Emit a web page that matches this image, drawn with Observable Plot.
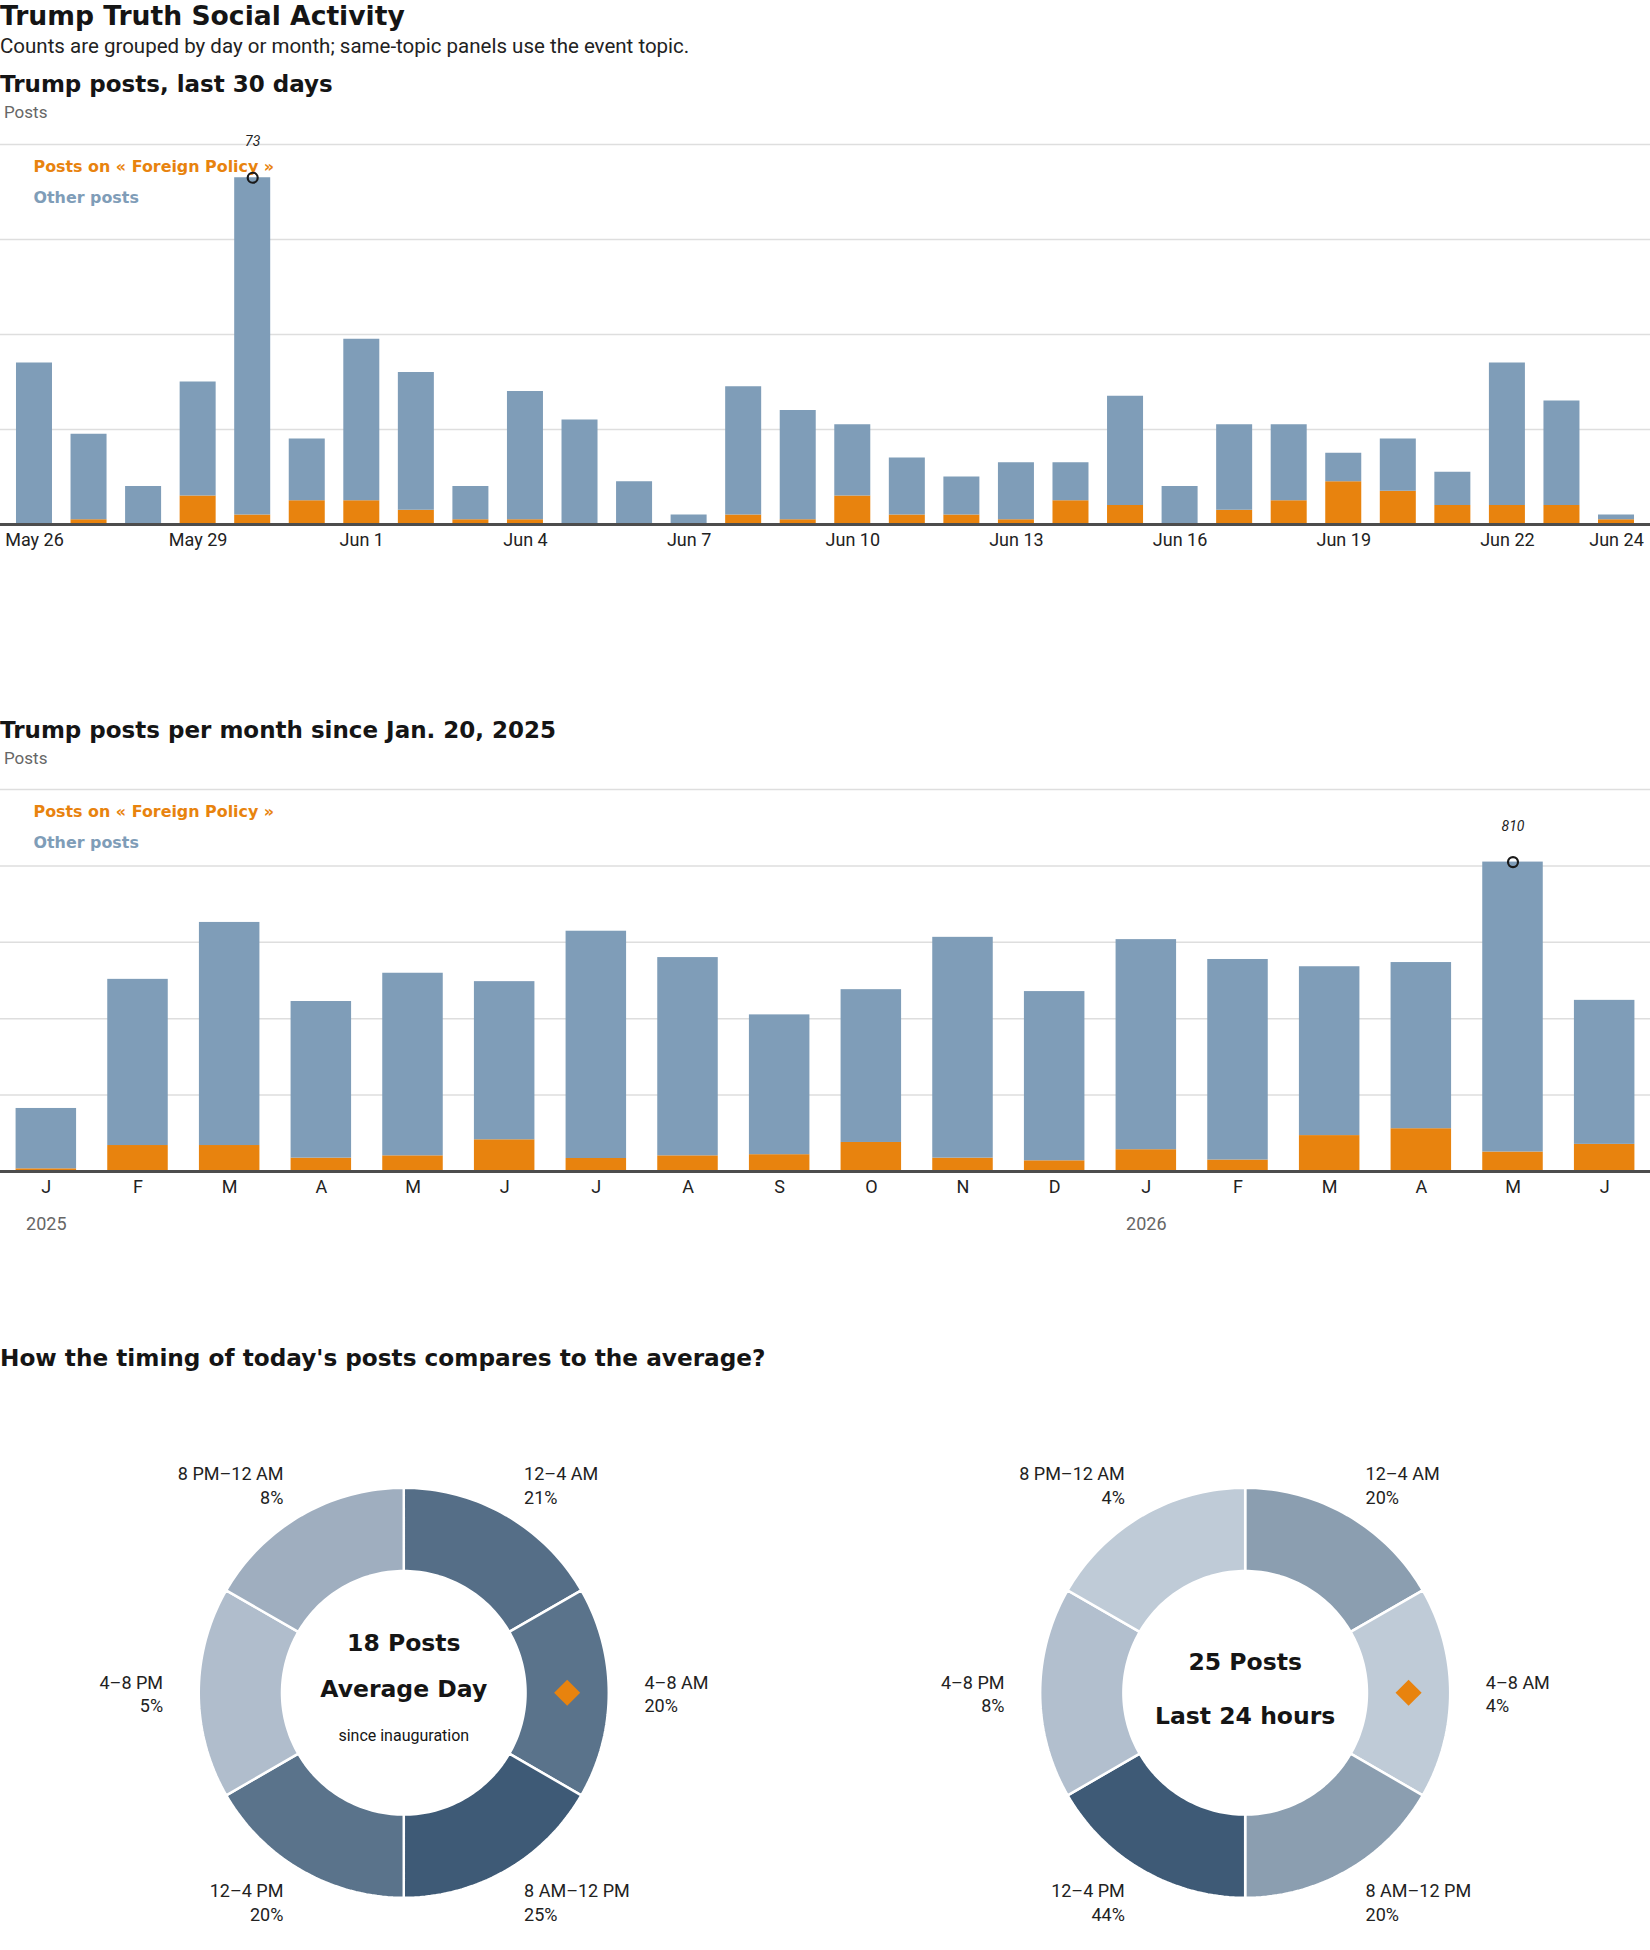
<!DOCTYPE html>
<html>
<head>
<meta charset="utf-8">
<script src="https://cdn.jsdelivr.net/npm/d3@7"></script>
<script src="https://cdn.jsdelivr.net/npm/@observablehq/plot@0.6"></script>
<style>
  body { margin: 0; background: #fff; font-family: Roboto, "Liberation Sans", sans-serif; color: #1a1a1a; }
  #page { position: relative; width: 1650px; height: 1950px; overflow: hidden; }
  .t { position: absolute; left: 0; white-space: nowrap; line-height: 1.15; }
  .heavy { font-family: "DejaVu Sans", sans-serif; font-weight: 700; color: #151515; }
  .chart { position: absolute; left: 0; }
  svg { overflow: visible; }
</style>
</head>
<body>
<div id="page">
  <div class="t heavy" style="top:1px;font-size:26.6px">Trump Truth Social Activity</div>
  <div class="t" style="top:35px;font-size:20.5px;color:#222">Counts are grouped by day or month; same-topic panels use the event topic.</div>
  <div class="t heavy" style="top:71px;font-size:23px">Trump posts, last 30 days</div>
  <div class="t" style="top:103px;left:4px;font-size:17px;color:#666">Posts</div>
  <div id="daily" class="chart" style="top:120px"></div>

  <div class="t heavy" style="top:717px;font-size:23px">Trump posts per month since Jan. 20, 2025</div>
  <div class="t" style="top:749px;left:4px;font-size:17px;color:#666">Posts</div>
  <div id="monthly" class="chart" style="top:770px"></div>

  <div class="t heavy" style="top:1345px;font-size:23.2px">How the timing of today's posts compares to the average?</div>
  <div id="donutA" class="chart" style="top:1400px;left:0px"></div>
  <div id="donutB" class="chart" style="top:1400px;left:825px"></div>
</div>
<script>
// ---------- DATA ----------
const seriesNames = ["Posts on « Foreign Policy »", "Other posts"];
const seriesColors = ["#e8830e", "#7f9db8"];

// Daily, last 30 days (May 26 – Jun 24, 2026)
const dayStart = "2026-05-26";
const dailyForeign = [0, 1, 0, 6, 2, 5, 5, 3, 1, 1, 0, 0, 0, 2, 1, 6, 2, 2, 1, 5, 4, 0, 3, 5, 9, 7, 4, 4, 4, 1];
const dailyOther   = [34, 18, 8, 24, 71, 13, 34, 29, 7, 27, 22, 9, 2, 27, 23, 15, 12, 8, 12, 8, 23, 8, 18, 16, 6, 11, 7, 30, 22, 1];
const dailyTicks = ["May 26", "May 29", "Jun 1", "Jun 4", "Jun 7", "Jun 10", "Jun 13", "Jun 16", "Jun 19", "Jun 22", "Jun 24"];
const dailyGrid = [20, 40, 60, 80];
const dailyDomain = [0, 80];

// Monthly since Jan 2025
const months = ["2025-01","2025-02","2025-03","2025-04","2025-05","2025-06","2025-07","2025-08","2025-09",
                "2025-10","2025-11","2025-12","2026-01","2026-02","2026-03","2026-04","2026-05","2026-06"];
const monthlyForeign = [7, 68, 68, 35, 41, 83, 34, 41, 44, 76, 35, 28, 57, 30, 94, 112, 51, 71];
const monthlyOther   = [158, 435, 584, 410, 478, 414, 595, 519, 366, 400, 578, 443, 550, 525, 442, 435, 759, 377];
const monthLetters = ["J","F","M","A","M","J","J","A","S","O","N","D"];
const yearTicks = ["2025-01", "2026-01"];
const monthlyGrid = [200, 400, 600, 800, 1000];
const monthlyDomain = [0, 1000];

// Timing donuts
const slots = ["12–4 AM", "4–8 AM", "8 AM–12 PM", "12–4 PM", "4–8 PM", "8 PM–12 AM"];
const avgPct = [21, 20, 25, 20, 5, 8];
const todayPct = [20, 4, 20, 44, 8, 4];
const avgPosts = 18;
const todayPosts = 25;
const currentSlot = "4–8 AM";

// ---------- BUILD ----------
const HEAVY = "'DejaVu Sans', sans-serif";
const fmtDay = d3.utcFormat("%b %-d");
const dayDates = d3.utcDay.range(new Date(dayStart), d3.utcDay.offset(new Date(dayStart), dailyForeign.length));
const dayLabels = dayDates.map(fmtDay);
const dailyLong = dayLabels.flatMap((day, i) => [
  {day, series: seriesNames[0], value: dailyForeign[i]},
  {day, series: seriesNames[1], value: dailyOther[i]}
]);
const dailyTotals = dayLabels.map((day, i) => ({day, total: dailyForeign[i] + dailyOther[i]}));
const dailyPeak = d3.greatest(dailyTotals, d => d.total);

const monthlyLong = months.flatMap((m, i) => [
  {month: m, series: seriesNames[0], value: monthlyForeign[i]},
  {month: m, series: seriesNames[1], value: monthlyOther[i]}
]);
const monthlyTotals = months.map((m, i) => ({month: m, total: monthlyForeign[i] + monthlyOther[i]}));
const monthlyPeak = d3.greatest(monthlyTotals, d => d.total);

const baseStyle = {fontFamily: "Roboto, 'Liberation Sans', sans-serif", fontSize: "18px", color: "#222", background: "transparent", overflow: "visible"};

function legendMarks() {
  return seriesNames.map((name, i) =>
    Plot.text([name], {text: d => d, frameAnchor: "top-left", lineAnchor: "middle", dx: 33, dy: 22 + i * 31,
      fill: seriesColors[i], fontFamily: HEAVY, fontWeight: 700, fontSize: 15.9, textAnchor: "start"}));
}

function peakMarks(peak, xKey) {
  return [
    Plot.dot([peak], {x: xKey, y: "total", r: 5, stroke: "#1a1a1a", strokeWidth: 2.2, fill: "none"}),
    Plot.text([peak], {x: xKey, y: "total", text: d => String(d.total), dy: -36, fontStyle: "italic", fontSize: 14, fill: "#222"})
  ];
}

document.getElementById("daily").append(Plot.plot({
  width: 1650, height: 440,
  marginTop: 24, marginBottom: 36, marginLeft: 0, marginRight: 0,
  style: baseStyle,
  x: {type: "band", domain: dayLabels, paddingInner: 0.34, paddingOuter: 0.293, round: false, label: null},
  y: {domain: dailyDomain, axis: null},
  color: {domain: seriesNames, range: seriesColors},
  marks: [
    Plot.ruleY(dailyGrid, {stroke: "#dedede", strokeWidth: 1.5}),
    Plot.barY(dailyLong, {x: "day", y: "value", fill: "series"}),
    Plot.ruleY([0], {stroke: "#4d4d4d", strokeWidth: 3}),
    Plot.axisX(dailyTicks, {tickSize: 0, tickPadding: 9, fontSize: 18, fill: "#222"}),
    ...legendMarks(),
    ...peakMarks(dailyPeak, "day")
  ]
}));

document.getElementById("monthly").append(Plot.plot({
  width: 1650, height: 480,
  marginTop: 19, marginBottom: 79, marginLeft: 0, marginRight: 0,
  style: baseStyle,
  x: {type: "band", domain: months, paddingInner: 0.34, paddingOuter: 0.17, round: false, label: null},
  y: {domain: monthlyDomain, axis: null},
  color: {domain: seriesNames, range: seriesColors},
  marks: [
    Plot.ruleY(monthlyGrid, {stroke: "#dedede", strokeWidth: 1.5}),
    Plot.barY(monthlyLong, {x: "month", y: "value", fill: "series"}),
    Plot.ruleY([0], {stroke: "#4d4d4d", strokeWidth: 3}),
    Plot.axisX(months, {tickSize: 0, tickPadding: 9, fontSize: 18, fill: "#222",
      tickFormat: m => monthLetters[+m.slice(5) - 1]}),
    Plot.axisX(yearTicks, {tickSize: 0, tickPadding: 46, fontSize: 18, fill: "#666",
      tickFormat: m => m.slice(0, 4)}),
    ...legendMarks(),
    ...peakMarks(monthlyPeak, "month")
  ]
}));

// Donuts: six equal 4-hour sectors, shade encodes share
const R_OUT = 1, R_IN = 0.594, R_LABEL = 1.174, R_MARK = (R_OUT + R_IN) / 2;
function sectorPolys(pcts) {
  const n = slots.length, steps = 40, out = [];
  slots.forEach((slot, i) => {
    const a0 = (i / n) * 2 * Math.PI, a1 = ((i + 1) / n) * 2 * Math.PI;
    for (let k = 0; k <= steps; k++) {
      const a = a0 + (a1 - a0) * k / steps;
      out.push({slot, pct: pcts[i], x: R_OUT * Math.sin(a), y: R_OUT * Math.cos(a)});
    }
    for (let k = steps; k >= 0; k--) {
      const a = a0 + (a1 - a0) * k / steps;
      out.push({slot, pct: pcts[i], x: R_IN * Math.sin(a), y: R_IN * Math.cos(a)});
    }
  });
  return out;
}
function slotLabels(pcts) {
  const n = slots.length;
  return slots.map((slot, i) => {
    const a = ((i + 0.5) / n) * 2 * Math.PI;
    return {slot, pct: pcts[i], right: Math.sin(a) > 0,
      x: R_LABEL * Math.sin(a), y: R_LABEL * Math.cos(a),
      mx: R_MARK * Math.sin(a), my: R_MARK * Math.cos(a)};
  });
}
function donut(el, pcts, xDomain, centerLines) {
  const labels = slotLabels(pcts);
  const cur = labels.filter(d => d.slot === currentSlot);
  document.getElementById(el).append(Plot.plot({
    width: 825, height: 550, margin: 0,
    style: baseStyle,
    x: {domain: xDomain, axis: null},
    y: {domain: [-1.257, 1.426], axis: null},
    color: {type: "linear", domain: [0, d3.max(pcts)], range: ["#ccd6e1", "#3e5a76"], interpolate: "rgb"},
    marks: [
      Plot.line(sectorPolys(pcts), {x: "x", y: "y", z: "slot", fill: "pct", stroke: "#fff", strokeWidth: 2.5, curve: "linear-closed"}),
      Plot.dot(cur, {x: "mx", y: "my", symbol: "square", r: 10.4, rotate: 45, fill: "#e8830e", stroke: "none"}),
      Plot.text(labels.filter(d => d.right), {x: "x", y: "y", text: d => `${d.slot}\n${d.pct}%`, textAnchor: "start", lineHeight: 1.33, fontSize: 18, fill: "#222"}),
      Plot.text(labels.filter(d => !d.right), {x: "x", y: "y", text: d => `${d.slot}\n${d.pct}%`, textAnchor: "end", lineHeight: 1.33, fontSize: 18, fill: "#222"}),
      ...centerLines.map(l => Plot.text([l.text], {x: 0, y: 0, text: d => d, dy: l.dy, fontSize: l.size,
        fontWeight: l.weight, fontFamily: l.heavy ? HEAVY : undefined, fill: "#151515"}))
    ]
  }));
}
donut("donutA", avgPct, [-1.967, 2.057], [
  {text: `${avgPosts} Posts`, dy: -49, size: 23.5, weight: 700, heavy: true},
  {text: "Average Day", dy: -3, size: 23.5, weight: 700, heavy: true},
  {text: "since inauguration", dy: 43, size: 16, weight: 400}
]);
donut("donutB", todayPct, [-2.047, 1.977], [
  {text: `${todayPosts} Posts`, dy: -30, size: 23.5, weight: 700, heavy: true},
  {text: "Last 24 hours", dy: 24, size: 23.5, weight: 700, heavy: true}
]);
</script>
</body>
</html>
